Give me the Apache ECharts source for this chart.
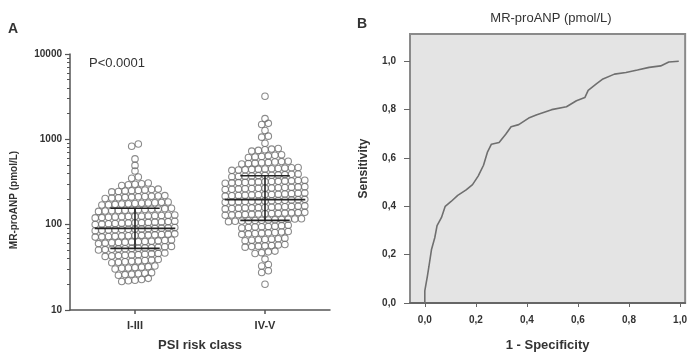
<!DOCTYPE html>
<html>
<head>
<meta charset="utf-8">
<script src="https://cdn.jsdelivr.net/npm/echarts@6.0.0/dist/echarts.min.js"></script>
<style>html,body{margin:0;padding:0;background:#fff;}#c{width:690px;height:357px;}</style>
</head>
<body>
<div id="c"></div>
<script>
// ---------- DATA ----------
const categories = ['I-III', 'IV-V'];
// MR-proANP (pmol/L), PSI risk class I-III
const psiLow = [
  21.6, 22.0, 22.3, 22.8, 23.5,
  25.5, 26.0, 26.3, 26.6, 27.0, 27.4,
  30.2, 30.8, 31.0, 31.4, 31.8, 32.2, 32.8,
  35.8, 36.3, 36.8, 37.2, 37.5, 38.0, 38.5, 39.0,
  42.5, 43.0, 43.4, 43.8, 44.2, 44.5, 45.0, 45.5, 46.0, 46.5,
  50.5, 51.0, 51.5, 52.0, 52.3, 52.7, 53.0, 53.4, 53.8, 54.3, 55.0, 55.6,
  60.0, 60.8, 61.4, 62.0, 62.4, 62.8, 63.2, 63.6, 64.0, 64.6, 65.2, 66.0,
  71.5, 72.0, 72.6, 73.2, 73.8, 74.2, 74.6, 75.0, 75.5, 76.0, 76.6, 77.4, 78.0,
  85.0, 85.8, 86.5, 87.0, 87.6, 88.2, 88.7, 89.2, 89.8, 90.4, 91.0, 91.8, 92.6,
  100.5, 101.5, 102.4, 103.0, 103.8, 104.5, 105.0, 105.6, 106.3, 107.0, 107.8, 108.6, 109.5,
  120, 121, 122, 123, 123.8, 124.5, 125, 125.7, 126.5, 127.2, 128, 129, 130,
  143, 144.5, 145.5, 146.5, 147.5, 148.5, 149.5, 150.5, 151.5, 152.5, 154, 155.5,
  170, 171.5, 173, 174.5, 176, 177, 178, 179.5, 181, 182.5, 184,
  203, 205, 207, 209, 210.5, 212, 213.5, 215, 217, 219,
  242, 245, 248, 250, 252, 255, 258, 261,
  288, 294, 298, 302, 308,
  350, 362,
  425,
  495,
  590,
  830, 880
];
// MR-proANP (pmol/L), PSI risk class IV-V
const psiHigh = [
  20,
  27.5, 28.8,
  32.8, 34.2,
  39.5,
  46, 47, 48, 49,
  54.5, 55.3, 56, 56.5, 57, 57.8, 58.6,
  64.8, 65.8, 66.5, 67, 67.6, 68.4, 69.5,
  77, 78, 78.8, 79.5, 80.2, 81, 82, 83,
  91.5, 92.8, 93.8, 94.6, 95.2, 96, 97.2, 98.5,
  108.5, 109.5, 110.3, 111, 111.8, 112.5, 113.3, 114, 114.8, 115.6, 116.5, 117.5,
  129, 130, 131, 132, 132.8, 133.5, 134.2, 135, 135.8, 136.6, 137.5, 138.5, 139.5,
  153, 154.5, 155.5, 156.5, 157.5, 158.3, 159, 160, 161, 162, 163, 164.5, 166,
  183, 184.5, 186, 187, 188, 189, 190, 191, 192, 193.5, 195, 196.5, 198,
  216, 218, 220, 221.5, 223, 224, 225, 226, 227.5, 229, 231, 233, 235,
  258, 260, 262, 264, 265.5, 267, 268, 269.5, 271, 273, 275, 277, 279,
  306, 309, 311, 313, 315, 317, 318, 320, 322, 324, 326, 329, 332,
  364, 367, 370, 373, 376, 378, 380, 383, 386, 389, 392,
  433, 437, 440, 444, 447, 450, 453, 456, 460, 464, 468,
  515, 520, 526, 531, 537, 542, 548, 554,
  612, 620, 630, 640, 650, 660,
  728, 742, 755, 768, 782,
  900,
  1060, 1090,
  1270,
  1490, 1540,
  1750,
  3200
];
// ROC curve
const rocFpr = [0, 0, 0.010, 0.016, 0.026, 0.039, 0.048, 0.065, 0.080, 0.103, 0.129, 0.162, 0.187, 0.209, 0.230, 0.245, 0.261, 0.291, 0.317, 0.338, 0.368, 0.407, 0.439, 0.497, 0.555, 0.594, 0.627, 0.640, 0.672, 0.698, 0.743, 0.788, 0.833, 0.879, 0.924, 0.956, 0.995];
const rocTpr = [0, 0.05, 0.11, 0.15, 0.22, 0.27, 0.32, 0.353, 0.40, 0.42, 0.445, 0.468, 0.49, 0.525, 0.57, 0.623, 0.657, 0.664, 0.698, 0.729, 0.738, 0.765, 0.779, 0.80, 0.812, 0.837, 0.85, 0.88, 0.907, 0.927, 0.947, 0.954, 0.964, 0.975, 0.981, 0.997, 1.0];
const logTicksA = [10, 100, 1000, 10000];
const rocTicks = [0, 0.2, 0.4, 0.6, 0.8, 1.0];

// ---------- LAYOUT HELPERS ----------
const FONT = 'Liberation Sans, Arial, sans-serif';
const TXT = '#333';
function swarm(values, center, anchor) {
  const h = 0.0753, dx = 0.051;
  const rows = {};
  values.forEach(v => {
    const k = Math.round((Math.log10(v) - Math.log10(anchor)) / h);
    (rows[k] = rows[k] || []).push(v);
  });
  const pts = [];
  Object.keys(rows).forEach(k => {
    const r = rows[k];
    r.forEach((v, i) => pts.push([center + (i - (r.length - 1) / 2) * dx, v]));
  });
  return pts;
}
function quant(arr, q) {
  const s = arr.slice().sort((a, b) => a - b);
  const p = (s.length - 1) * q, lo = Math.floor(p), hi = Math.ceil(p);
  return s[lo] + (s[hi] - s[lo]) * (p - lo);
}
const minorLogs = [];
for (let d = 1; d < 4; d++) for (let m = 2; m <= 9; m++) minorLogs.push(d + Math.log10(m));

const statSeries = [];
[psiLow, psiHigh].forEach((vals, gi) => {
  const c = gi + 0.5;
  const q1 = quant(vals, 0.25), md = quant(vals, 0.5), q3 = quant(vals, 0.75);
  const segs = [
    [[c - 0.31, md], [c + 0.31, md]],
    [[c - 0.19, q1], [c + 0.19, q1]],
    [[c - 0.19, q3], [c + 0.19, q3]],
    [[c, q1], [c, q3]]
  ];
  segs.forEach(s => statSeries.push({
    type: 'line', xAxisIndex: 0, yAxisIndex: 0, data: s, showSymbol: false, silent: true, z: 5,
    lineStyle: { color: '#222', width: 1.6 }
  }));
});

const chart = echarts.init(document.getElementById('c'), null, { renderer: 'canvas' });
const axisTxt = { color: TXT, fontFamily: FONT, fontWeight: 'bold' };
chart.setOption({
  animation: false,
  backgroundColor: '#fff',
  graphic: [
    { type: 'text', left: 8, top: 22, style: { text: 'A', font: 'bold 14px ' + FONT, fill: TXT } },
    { type: 'text', left: 357, top: 17, style: { text: 'B', font: 'bold 14px ' + FONT, fill: TXT } },
    { type: 'text', left: 89, top: 57, style: { text: 'P<0.0001', font: '13px ' + FONT, fill: TXT } },
    { type: 'text', x: 551, y: 18, style: { text: 'MR-proANP (pmol/L)', font: '13px ' + FONT, fill: TXT, align: 'center', verticalAlign: 'middle' } },
    { type: 'text', x: 14, y: 200, rotation: Math.PI / 2, style: { text: 'MR-proANP (pmol/L)', font: 'bold 10px ' + FONT, fill: TXT, align: 'center', verticalAlign: 'middle' } }
  ],
  grid: [
    { left: 70, top: 54, width: 260, height: 259 },
    { left: 410, top: 34, width: 278, height: 275, show: true, backgroundColor: '#e4e4e4', borderColor: '#8a8a8a', borderWidth: 2 }
  ],
  xAxis: [
    {
      gridIndex: 0, type: 'value', min: 0, max: 2,
      axisLine: { lineStyle: { color: '#555', width: 1.5 } },
      axisTick: { customValues: [0.5, 1.5], length: 4, lineStyle: { color: '#555', width: 1.5 } },
      axisLabel: Object.assign({ customValues: [0.5, 1.5], formatter: v => categories[Math.floor(v)], margin: 10, fontSize: 11 }, axisTxt),
      splitLine: { show: false },
      name: 'PSI risk class', nameLocation: 'middle', nameGap: 29,
      nameTextStyle: Object.assign({ fontSize: 13 }, axisTxt)
    },
    {
      gridIndex: 1, type: 'value', min: -0.058, max: 1.02,
      axisLine: { onZero: false, lineStyle: { color: '#666', width: 2 } },
      axisTick: { customValues: rocTicks, length: 4, lineStyle: { color: '#666' } },
      axisLabel: Object.assign({ customValues: rocTicks, formatter: v => v.toFixed(1).replace('.', ','), margin: 12, fontSize: 10 }, axisTxt),
      splitLine: { show: false },
      name: '1 - Specificity', nameLocation: 'middle', nameGap: 36,
      nameTextStyle: Object.assign({ fontSize: 13 }, axisTxt)
    }
  ],
  yAxis: [
    {
      gridIndex: 0, type: 'log', logBase: 10, min: 10, max: 10000, position: 'left',
      axisLine: { show: true, lineStyle: { color: '#555', width: 1.5 } },
      axisTick: { show: true, length: 5, lineStyle: { color: '#555', width: 1.2 } },
      axisLabel: Object.assign({ formatter: v => String(Math.round(v)), margin: 8, fontSize: 10 }, axisTxt),
      splitLine: { show: false }
    },
    {
      gridIndex: 0, type: 'value', min: 1, max: 4, position: 'left',
      axisLine: { show: false },
      axisTick: { show: true, customValues: minorLogs, length: 3, lineStyle: { color: '#555', width: 1 } },
      axisLabel: { show: false },
      splitLine: { show: false }
    },
    {
      gridIndex: 1, type: 'value', min: 0, max: 1.113,
      axisLine: { show: true, onZero: false, lineStyle: { color: '#8a8a8a', width: 2 } },
      axisTick: { customValues: rocTicks, length: 6, lineStyle: { color: '#666' } },
      axisLabel: Object.assign({ customValues: rocTicks, formatter: v => v.toFixed(1).replace('.', ','), margin: 14, fontSize: 10 }, axisTxt),
      splitLine: { show: false },
      name: 'Sensitivity', nameLocation: 'middle', nameGap: 40,
      nameTextStyle: Object.assign({ fontSize: 12 }, axisTxt)
    }
  ],
  series: [
    {
      type: 'scatter', xAxisIndex: 0, yAxisIndex: 0, data: swarm(psiLow, 0.5, 22.2),
      symbol: 'circle', symbolSize: 6.5,
      itemStyle: { color: 'rgba(255,255,255,0)', borderColor: '#6e6e6e', borderWidth: 1.1 }
    },
    {
      type: 'scatter', xAxisIndex: 0, yAxisIndex: 0, data: swarm(psiHigh, 1.5, 20),
      symbol: 'circle', symbolSize: 6.5,
      itemStyle: { color: 'rgba(255,255,255,0)', borderColor: '#6e6e6e', borderWidth: 1.1 }
    },
    ...statSeries,
    {
      type: 'line', xAxisIndex: 1, yAxisIndex: 2, showSymbol: false,
      data: rocFpr.map((x, i) => [x, rocTpr[i]]),
      lineStyle: { color: '#6f6f6f', width: 1.6 }
    }
  ]
});
</script>
</body>
</html>
